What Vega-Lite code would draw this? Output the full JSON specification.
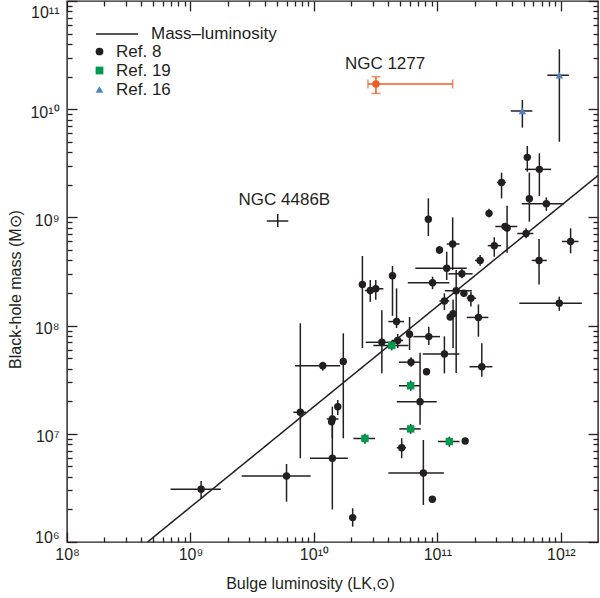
{
  "$schema": "https://vega.github.io/schema/vega-lite/v6.json",
  "width": 531,
  "height": 541,
  "autosize": {"type": "none"},
  "padding": {"left": 67, "top": 1, "right": 2, "bottom": 56},
  "background": "white",
  "config": {
    "font": "Liberation Sans",
    "view": {"stroke": "#231f20", "strokeWidth": 1.4},
    "axis": {"domain": false, "tickColor": "#231f20", "tickWidth": 1.3, "labelColor": "#231f20", "titleColor": "#231f20", "labelFontSize": 16, "titleFontSize": 16, "titleFontWeight": "normal", "grid": false, "labelFont": "Liberation Sans", "titleFont": "Liberation Sans"},
    "legend": {"labelFont": "Liberation Sans", "labelFontSize": 17, "labelColor": "#231f20", "padding": 0}
  },
  "datasets": {
    "line": [{"x": 4.49e8, "y": 1e6}, {"x": 2e12, "y": 2.44e9}],
    "annot": [{"label": "NGC 1277", "x": 3.77e10, "y": 2.62e10}, {"label": "NGC 4486B", "x": 5.76e9, "y": 1.448e9}],
    "pts": [
      {"ref": "Ref. 8", "x": 1.22e9, "y": 3.07e6, "xlo": 6.9e8, "xhi": 1.76e9, "ylo": 2.54e6, "yhi": 3.66e6},
      {"ref": "Ref. 8", "x": 6.0e9, "y": 4.07e6, "xlo": 2.6e9, "xhi": 9.4e9, "ylo": 2.36e6, "yhi": 5.26e6},
      {"ref": "Ref. 8", "x": 7.76e9, "y": 1.58e7, "xlo": 6.81e9, "xhi": 8.63e9, "ylo": 5.94e6, "yhi": 1.05e8},
      {"ref": "Ref. 8", "x": 1.18e10, "y": 4.26e7, "xlo": 7.03e9, "xhi": 1.63e10, "ylo": 3.83e7, "yhi": 4.64e7},
      {"ref": "Ref. 8", "x": 1.73e10, "y": 4.66e7, "xlo": 1.73e10, "xhi": 1.73e10, "ylo": 9.09e6, "yhi": 8.49e7},
      {"ref": "Ref. 8", "x": 1.56e10, "y": 1.78e7, "xlo": 1.56e10, "xhi": 1.56e10, "ylo": 1.49e7, "yhi": 2.05e7},
      {"ref": "Ref. 8", "x": 1.41e10, "y": 1.37e7, "xlo": 1.27e10, "xhi": 1.58e10, "ylo": 9.09e6, "yhi": 1.78e7},
      {"ref": "Ref. 8", "x": 1.39e10, "y": 1.29e7, "xlo": 1.39e10, "xhi": 1.39e10, "ylo": 1.29e7, "yhi": 1.29e7},
      {"ref": "Ref. 8", "x": 1.41e10, "y": 5.94e6, "xlo": 9.3e9, "xhi": 1.88e10, "ylo": 2.0e6, "yhi": 1.25e7},
      {"ref": "Ref. 8", "x": 2.06e10, "y": 1.68e6, "xlo": 2.06e10, "xhi": 2.06e10, "ylo": 1.385e6, "yhi": 2.05e6},
      {"ref": "Ref. 8", "x": 2.47e10, "y": 2.4e8, "xlo": 2.47e10, "xhi": 2.47e10, "ylo": 6.21e7, "yhi": 4.4e8},
      {"ref": "Ref. 8", "x": 2.86e10, "y": 2.11e8, "xlo": 2.59e10, "xhi": 3.23e10, "ylo": 1.66e8, "yhi": 2.64e8},
      {"ref": "Ref. 8", "x": 3.17e10, "y": 2.19e8, "xlo": 2.94e10, "xhi": 3.65e10, "ylo": 1.73e8, "yhi": 2.64e8},
      {"ref": "Ref. 8", "x": 4.33e10, "y": 2.89e8, "xlo": 4.33e10, "xhi": 4.33e10, "ylo": 1.23e8, "yhi": 3.56e8},
      {"ref": "Ref. 8", "x": 4.67e10, "y": 1.09e8, "xlo": 4.01e10, "xhi": 5.37e10, "ylo": 9.5e7, "yhi": 2.21e8},
      {"ref": "Ref. 8", "x": 3.55e10, "y": 7.01e7, "xlo": 2.63e10, "xhi": 4.69e10, "ylo": 3.62e7, "yhi": 1.39e8},
      {"ref": "Ref. 8", "x": 4.77e10, "y": 7.29e7, "xlo": 4.29e10, "xhi": 5.27e10, "ylo": 6.2e7, "yhi": 8.36e7},
      {"ref": "Ref. 8", "x": 5.95e10, "y": 8.32e7, "xlo": 5.95e10, "xhi": 5.95e10, "ylo": 5.95e7, "yhi": 1.2e8},
      {"ref": "Ref. 8", "x": 8.52e10, "y": 7.91e7, "xlo": 6.39e10, "xhi": 1.05e11, "ylo": 6.62e7, "yhi": 9.77e7},
      {"ref": "Ref. 8", "x": 6.12e10, "y": 4.59e7, "xlo": 4.89e10, "xhi": 7.24e10, "ylo": 4.17e7, "yhi": 5.09e7},
      {"ref": "Ref. 8", "x": 8.17e10, "y": 3.75e7, "xlo": 8.17e10, "xhi": 8.17e10, "ylo": 3.75e7, "yhi": 3.75e7},
      {"ref": "Ref. 8", "x": 7.24e10, "y": 1.98e7, "xlo": 4.69e10, "xhi": 9.88e10, "ylo": 1.21e7, "yhi": 5.62e7},
      {"ref": "Ref. 8", "x": 5.14e10, "y": 7.44e6, "xlo": 4.69e10, "xhi": 5.57e10, "ylo": 5.94e6, "yhi": 9.09e6},
      {"ref": "Ref. 8", "x": 1.68e11, "y": 8.58e6, "xlo": 1.68e11, "xhi": 1.68e11, "ylo": 8.58e6, "yhi": 8.58e6},
      {"ref": "Ref. 8", "x": 7.7e10, "y": 4.34e6, "xlo": 4.01e10, "xhi": 1.13e11, "ylo": 2.2e6, "yhi": 8.76e6},
      {"ref": "Ref. 8", "x": 9.1e10, "y": 2.48e6, "xlo": 9.1e10, "xhi": 9.1e10, "ylo": 2.48e6, "yhi": 2.48e6},
      {"ref": "Ref. 8", "x": 8.45e10, "y": 9.63e8, "xlo": 8.45e10, "xhi": 8.45e10, "ylo": 6.73e8, "yhi": 1.5e9},
      {"ref": "Ref. 8", "x": 1.04e11, "y": 5.0e8, "xlo": 1.04e11, "xhi": 1.04e11, "ylo": 4.59e8, "yhi": 5.44e8},
      {"ref": "Ref. 8", "x": 1.19e11, "y": 3.39e8, "xlo": 6.63e10, "xhi": 1.73e11, "ylo": 2.64e8, "yhi": 4.82e8},
      {"ref": "Ref. 8", "x": 9.14e10, "y": 2.49e8, "xlo": 5.76e10, "xhi": 1.25e11, "ylo": 2.17e8, "yhi": 2.83e8},
      {"ref": "Ref. 8", "x": 1.33e11, "y": 5.68e8, "xlo": 1.19e11, "xhi": 1.51e11, "ylo": 3.27e8, "yhi": 1.0e9},
      {"ref": "Ref. 8", "x": 1.58e11, "y": 3.01e8, "xlo": 1.23e11, "xhi": 1.93e11, "ylo": 2.74e8, "yhi": 3.39e8},
      {"ref": "Ref. 8", "x": 1.42e11, "y": 2.1e8, "xlo": 1.15e11, "xhi": 1.9e11, "ylo": 3.65e7, "yhi": 3.27e8},
      {"ref": "Ref. 8", "x": 1.64e11, "y": 1.99e8, "xlo": 1.64e11, "xhi": 1.64e11, "ylo": 1.99e8, "yhi": 1.99e8},
      {"ref": "Ref. 8", "x": 1.87e11, "y": 1.79e8, "xlo": 1.73e11, "xhi": 2.06e11, "ylo": 1.5e8, "yhi": 2.06e8},
      {"ref": "Ref. 8", "x": 1.14e11, "y": 1.69e8, "xlo": 1.04e11, "xhi": 1.25e11, "ylo": 1.39e8, "yhi": 1.99e8},
      {"ref": "Ref. 8", "x": 1.34e11, "y": 1.29e8, "xlo": 1.34e11, "xhi": 1.34e11, "ylo": 6.21e7, "yhi": 1.73e8},
      {"ref": "Ref. 8", "x": 1.27e11, "y": 1.2e8, "xlo": 1.27e11, "xhi": 1.27e11, "ylo": 1.2e8, "yhi": 1.2e8},
      {"ref": "Ref. 8", "x": 2.15e11, "y": 1.19e8, "xlo": 1.73e11, "xhi": 2.59e11, "ylo": 7.9e7, "yhi": 1.57e8},
      {"ref": "Ref. 8", "x": 1.14e11, "y": 5.46e7, "xlo": 7.61e10, "xhi": 1.51e11, "ylo": 3.62e7, "yhi": 7.96e7},
      {"ref": "Ref. 8", "x": 2.29e11, "y": 4.17e7, "xlo": 1.82e11, "xhi": 2.79e11, "ylo": 3.37e7, "yhi": 6.86e7},
      {"ref": "Ref. 8", "x": 2.62e11, "y": 1.09e9, "xlo": 2.62e11, "xhi": 2.62e11, "ylo": 1.0e9, "yhi": 1.2e9},
      {"ref": "Ref. 8", "x": 2.89e11, "y": 5.48e8, "xlo": 2.56e11, "xhi": 3.28e11, "ylo": 4.33e8, "yhi": 6.55e8},
      {"ref": "Ref. 8", "x": 3.31e11, "y": 2.1e9, "xlo": 3.04e11, "xhi": 3.58e11, "ylo": 1.5e9, "yhi": 2.59e9},
      {"ref": "Ref. 8", "x": 3.53e11, "y": 8.24e8, "xlo": 2.95e11, "xhi": 4.44e11, "ylo": 8.24e8, "yhi": 8.24e8},
      {"ref": "Ref. 8", "x": 3.67e11, "y": 7.98e8, "xlo": 3.67e11, "xhi": 3.67e11, "ylo": 4.72e8, "yhi": 1.28e9},
      {"ref": "Ref. 8", "x": 5.23e11, "y": 7.1e8, "xlo": 4.44e11, "xhi": 5.99e11, "ylo": 6.41e8, "yhi": 7.93e8},
      {"ref": "Ref. 8", "x": 2.22e11, "y": 4.0e8, "xlo": 2.02e11, "xhi": 2.39e11, "ylo": 3.58e8, "yhi": 4.49e8},
      {"ref": "Ref. 8", "x": 6.66e11, "y": 4.0e8, "xlo": 5.81e11, "xhi": 7.69e11, "ylo": 2.4e8, "yhi": 6.32e8},
      {"ref": "Ref. 8", "x": 5.35e11, "y": 3.59e9, "xlo": 5.35e11, "xhi": 5.35e11, "ylo": 2.65e9, "yhi": 4.57e9},
      {"ref": "Ref. 8", "x": 6.7e11, "y": 2.78e9, "xlo": 5.13e11, "xhi": 8.33e11, "ylo": 1.58e9, "yhi": 3.91e9},
      {"ref": "Ref. 8", "x": 5.56e11, "y": 1.49e9, "xlo": 5.56e11, "xhi": 5.56e11, "ylo": 9.13e8, "yhi": 2.59e9},
      {"ref": "Ref. 8", "x": 7.63e11, "y": 1.34e9, "xlo": 4.82e11, "xhi": 1.06e12, "ylo": 1.15e9, "yhi": 1.53e9},
      {"ref": "Ref. 8", "x": 1.2e12, "y": 5.99e8, "xlo": 1.02e12, "xhi": 1.39e12, "ylo": 4.66e8, "yhi": 7.93e8},
      {"ref": "Ref. 8", "x": 9.71e11, "y": 1.61e8, "xlo": 4.61e11, "xhi": 1.48e12, "ylo": 1.37e8, "yhi": 1.85e8},
      {"ref": "Ref. 19", "x": 4.27e10, "y": 6.55e7, "xlo": 3.03e10, "xhi": 5.82e10, "ylo": 5.9e7, "yhi": 7.3e7},
      {"ref": "Ref. 19", "x": 6.08e10, "y": 2.78e7, "xlo": 4.89e10, "xhi": 7.24e10, "ylo": 2.5e7, "yhi": 3.1e7},
      {"ref": "Ref. 19", "x": 6.08e10, "y": 1.11e7, "xlo": 4.92e10, "xhi": 7.33e10, "ylo": 1.0e7, "yhi": 1.23e7},
      {"ref": "Ref. 19", "x": 2.59e10, "y": 9.05e6, "xlo": 2.09e10, "xhi": 3.13e10, "ylo": 8.1e6, "yhi": 1.0e7},
      {"ref": "Ref. 19", "x": 1.25e11, "y": 8.49e6, "xlo": 1.01e11, "xhi": 1.51e11, "ylo": 7.6e6, "yhi": 9.4e6},
      {"ref": "Ref. 16", "x": 4.88e11, "y": 9.63e9, "xlo": 3.93e11, "xhi": 5.88e11, "ylo": 6.75e9, "yhi": 1.22e10},
      {"ref": "Ref. 16", "x": 9.73e11, "y": 2.06e10, "xlo": 7.78e11, "xhi": 1.16e12, "ylo": 5.0e9, "yhi": 3.58e10},
      {"ref": "NGC 4486B", "x": 5.09e9, "y": 9.26e8, "xlo": 4.15e9, "xhi": 6.2e9, "ylo": 8.15e8, "yhi": 1.075e9},
      {"ref": "NGC 1277", "x": 3.18e10, "y": 1.71e10, "xlo": 2.74e10, "xhi": 1.33e11, "ylo": 1.4e10, "yhi": 2.0e10}
    ]
  },
  "layer": [
    {
      "data": {"name": "line"},
      "mark": {"type": "line", "color": "#231f20", "strokeWidth": 1.5, "clip": true},
      "encoding": {
        "x": {"field": "x", "type": "quantitative", "scale": {"type": "log", "domain": [1e8, 2e12], "nice": false},
          "axis": {"orient": "bottom", "offset": -10, "tickSize": 10, "values": [1e8, 1e9, 1e10, 1e11, 1e12],
            "labelExpr": "datum.value == 100000000 ? '10⁸' : datum.value == 1000000000 ? '10⁹' : datum.value == 10000000000 ? '10¹⁰' : datum.value == 100000000000 ? '10¹¹' : datum.value == 1000000000000 ? '10¹²' : ''",
            "labelFlush": false, "labelOverlap": false, "labelPadding": 4,
            "title": "Bulge luminosity (LK,⊙)", "titleX": 243, "titleY": 51, "titleBaseline": "middle", "titleAlign": "center"}},
        "y": {"field": "y", "type": "quantitative", "scale": {"type": "log", "domain": [1e6, 1e11], "nice": false},
          "axis": {"orient": "left", "offset": -10, "tickSize": 10, "values": [1e6, 1e7, 1e8, 1e9, 1e10, 1e11],
            "labelExpr": "datum.value == 1000000 ? '10⁶' : datum.value == 10000000 ? '10⁷' : datum.value == 100000000 ? '10⁸' : datum.value == 1000000000 ? '10⁹' : datum.value == 10000000000 ? '10¹⁰' : datum.value == 100000000000 ? '10¹¹' : ''",
            "labelFlush": true, "labelOverlap": false, "labelPadding": 8, "labelOffset": 3,
            "title": "Black-hole mass (M⊙)", "titleX": -62, "titleY": 288, "titleBaseline": "middle", "titleAlign": "center", "titleAngle": 270}},
        "strokeDash": {"datum": "Mass–luminosity", "type": "nominal", "scale": {"range": [[1, 0]]},
          "legend": {"orient": "none", "legendX": 28, "legendY": 11, "title": null, "symbolSize": 1764, "symbolStrokeWidth": 1.5, "symbolStrokeColor": "#231f20", "labelOffset": 12, "padding": 0}}
      }
    },
    {
      "data": {"name": "pts"},
      "transform": [{"filter": "datum.ref != 'NGC 1277'"}],
      "mark": {"type": "rule", "color": "#231f20", "strokeWidth": 1.5, "clip": true},
      "encoding": {
        "x": {"field": "xlo", "type": "quantitative", "scale": {"type": "log", "domain": [1e8, 2e12], "nice": false},
          "axis": {"orient": "bottom", "offset": -5, "tickSize": 5, "values": [2e8,3e8,4e8,5e8,6e8,7e8,8e8,9e8,2e9,3e9,4e9,5e9,6e9,7e9,8e9,9e9,2e10,3e10,4e10,5e10,6e10,7e10,8e10,9e10,2e11,3e11,4e11,5e11,6e11,7e11,8e11,9e11], "labels": false, "title": null}},
        "x2": {"field": "xhi"},
        "y": {"field": "y", "type": "quantitative", "scale": {"type": "log", "domain": [1e6, 1e11], "nice": false},
          "axis": {"orient": "left", "offset": -5, "tickSize": 5, "values": [2e6,3e6,4e6,5e6,6e6,7e6,8e6,9e6,2e7,3e7,4e7,5e7,6e7,7e7,8e7,9e7,2e8,3e8,4e8,5e8,6e8,7e8,8e8,9e8,2e9,3e9,4e9,5e9,6e9,7e9,8e9,9e9,2e10,3e10,4e10,5e10,6e10,7e10,8e10,9e10], "labels": false, "title": null}}
      }
    },
    {
      "data": {"name": "pts"},
      "transform": [{"filter": "datum.ref != 'NGC 1277'"}],
      "mark": {"type": "rule", "color": "#231f20", "strokeWidth": 1.5, "clip": true},
      "encoding": {
        "x": {"field": "x", "type": "quantitative", "scale": {"type": "log", "domain": [1e8, 2e12], "nice": false},
          "axis": {"orient": "top", "offset": -10, "tickSize": 10, "values": [1e8, 1e9, 1e10, 1e11, 1e12], "labels": false, "title": null}},
        "y": {"field": "ylo", "type": "quantitative", "scale": {"type": "log", "domain": [1e6, 1e11], "nice": false},
          "axis": {"orient": "right", "offset": -10, "tickSize": 10, "values": [1e6, 1e7, 1e8, 1e9, 1e10, 1e11], "labels": false, "title": null}},
        "y2": {"field": "yhi"}
      }
    },
    {
      "data": {"name": "pts"},
      "transform": [{"filter": "datum.ref == 'NGC 1277'"}],
      "mark": {"type": "errorbar", "color": "#f15a24", "thickness": 1.5, "ticks": {"size": 9}},
      "encoding": {
        "x": {"field": "xlo", "type": "quantitative", "scale": {"type": "log", "domain": [1e8, 2e12], "nice": false}, "axis": null},
        "x2": {"field": "xhi"},
        "y": {"field": "y", "type": "quantitative", "scale": {"type": "log", "domain": [1e6, 1e11], "nice": false}, "axis": null}
      }
    },
    {
      "data": {"name": "pts"},
      "transform": [{"filter": "datum.ref == 'NGC 1277'"}],
      "mark": {"type": "errorbar", "color": "#f15a24", "thickness": 1.5, "ticks": {"size": 9}},
      "encoding": {
        "x": {"field": "x", "type": "quantitative", "scale": {"type": "log", "domain": [1e8, 2e12], "nice": false}, "axis": null},
        "y": {"field": "ylo", "type": "quantitative", "scale": {"type": "log", "domain": [1e6, 1e11], "nice": false}, "axis": null},
        "y2": {"field": "yhi"}
      }
    },
    {
      "data": {"name": "pts"},
      "transform": [{"filter": "datum.ref != 'NGC 4486B'"}],
      "mark": {"type": "point", "filled": true, "size": 55, "opacity": 1},
      "encoding": {
        "x": {"field": "x", "type": "quantitative", "scale": {"type": "log", "domain": [1e8, 2e12], "nice": false},
          "axis": {"orient": "top", "offset": -5, "tickSize": 5, "values": [2e8,3e8,4e8,5e8,6e8,7e8,8e8,9e8,2e9,3e9,4e9,5e9,6e9,7e9,8e9,9e9,2e10,3e10,4e10,5e10,6e10,7e10,8e10,9e10,2e11,3e11,4e11,5e11,6e11,7e11,8e11,9e11], "labels": false, "title": null}},
        "y": {"field": "y", "type": "quantitative", "scale": {"type": "log", "domain": [1e6, 1e11], "nice": false},
          "axis": {"orient": "right", "offset": -5, "tickSize": 5, "values": [2e6,3e6,4e6,5e6,6e6,7e6,8e6,9e6,2e7,3e7,4e7,5e7,6e7,7e7,8e7,9e7,2e8,3e8,4e8,5e8,6e8,7e8,8e8,9e8,2e9,3e9,4e9,5e9,6e9,7e9,8e9,9e9,2e10,3e10,4e10,5e10,6e10,7e10,8e10,9e10], "labels": false, "title": null}},
        "color": {"field": "ref", "type": "nominal",
          "scale": {"domain": ["Ref. 8", "Ref. 19", "Ref. 16", "NGC 1277"], "range": ["#231f20", "#009a4e", "#4a84c8", "#f15a24"]},
          "legend": {"orient": "none", "legendX": 24, "legendY": 42, "title": null, "values": ["Ref. 8", "Ref. 19", "Ref. 16"], "symbolSize": 60, "labelOffset": 8, "rowPadding": 1, "padding": 0}},
        "shape": {"field": "ref", "type": "nominal",
          "scale": {"domain": ["Ref. 8", "Ref. 19", "Ref. 16", "NGC 1277"], "range": ["circle", "square", "triangle-up", "circle"]},
          "legend": {"orient": "none", "legendX": 24, "legendY": 42, "title": null, "values": ["Ref. 8", "Ref. 19", "Ref. 16"], "symbolSize": 60, "labelOffset": 8, "rowPadding": 1, "padding": 0}}
      }
    },
    {
      "data": {"name": "annot"},
      "mark": {"type": "text", "fontSize": 17, "color": "#231f20", "font": "Liberation Sans", "align": "center", "baseline": "middle"},
      "encoding": {
        "x": {"field": "x", "type": "quantitative", "scale": {"type": "log", "domain": [1e8, 2e12], "nice": false}, "axis": null},
        "y": {"field": "y", "type": "quantitative", "scale": {"type": "log", "domain": [1e6, 1e11], "nice": false}, "axis": null},
        "text": {"field": "label"}
      }
    }
  ],
  "resolve": {"axis": {"x": "independent", "y": "independent"}}
}
